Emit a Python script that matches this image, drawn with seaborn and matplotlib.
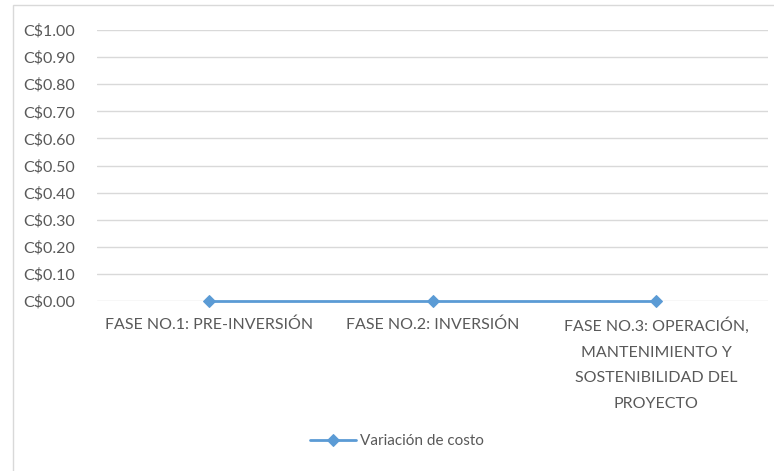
import matplotlib
matplotlib.use("Agg")
import matplotlib.pyplot as plt
from matplotlib.patches import Rectangle
import seaborn as sns
import pandas as pd

categories = [
    "FASE NO.1: PRE-INVERSIÓN",
    "FASE NO.2: INVERSIÓN",
    "FASE NO.3: OPERACIÓN,\nMANTENIMIENTO Y\nSOSTENIBILIDAD DEL\nPROYECTO",
]
variacion_costo = [0.0, 0.0, 0.0]
y_ticks = [0.0, 0.1, 0.2, 0.3, 0.4, 0.5, 0.6, 0.7, 0.8, 0.9, 1.0]
series_name = "Variación de costo"

sns.set_theme(style="white")
plt.rcParams["font.family"] = ["Lato", "DejaVu Sans"]

df = pd.DataFrame({"fase": categories, "valor": variacion_costo})

fig = plt.figure(figsize=(7.74, 4.71), dpi=100)
fig.patch.set_facecolor("white")
ax = fig.add_axes([97 / 774, 170 / 471, 671 / 774, 271 / 471])

blue = "#5B9BD5"
text_col = "#595959"

sns.lineplot(data=df, x="fase", y="valor", ax=ax, color=blue, linewidth=2,
             marker="D", markersize=6, markeredgecolor=blue, label=series_name,
             sort=False, clip_on=False, zorder=5)

ax.set_xlim(-0.5, len(categories) - 0.5)
ax.set_ylim(0, 1.0)
ax.set_yticks(y_ticks)
ax.set_yticklabels([f"C${v:.2f}" for v in y_ticks])
ax.yaxis.grid(True, color="#d9d9d9", linewidth=1)
ax.set_axisbelow(True)
for s in ax.spines.values():
    s.set_visible(False)
ax.set_xlabel("")
ax.set_ylabel("")
ax.tick_params(axis="y", length=0, pad=16, labelsize=11.5, labelcolor=text_col)
ax.tick_params(axis="x", length=0, pad=12, labelsize=11.5, labelcolor=text_col)
for lbl in ax.get_xticklabels():
    lbl.set_linespacing(2.05)
    lbl.set_horizontalalignment("center")

leg = ax.legend(loc="center", bbox_to_anchor=(397 / 774, 30 / 471),
                bbox_transform=fig.transFigure, frameon=False,
                fontsize=11, handlelength=3.0, handletextpad=0.3)
for t in leg.get_texts():
    t.set_color(text_col)

# outer chart border
fig.patches.append(Rectangle((13 / 774, -0.05), 1.0, (466 / 471) + 0.05,
                             transform=fig.transFigure, fill=False,
                             edgecolor="#d9d9d9", linewidth=1))

fig.savefig("out.png", dpi=100, facecolor="white")
